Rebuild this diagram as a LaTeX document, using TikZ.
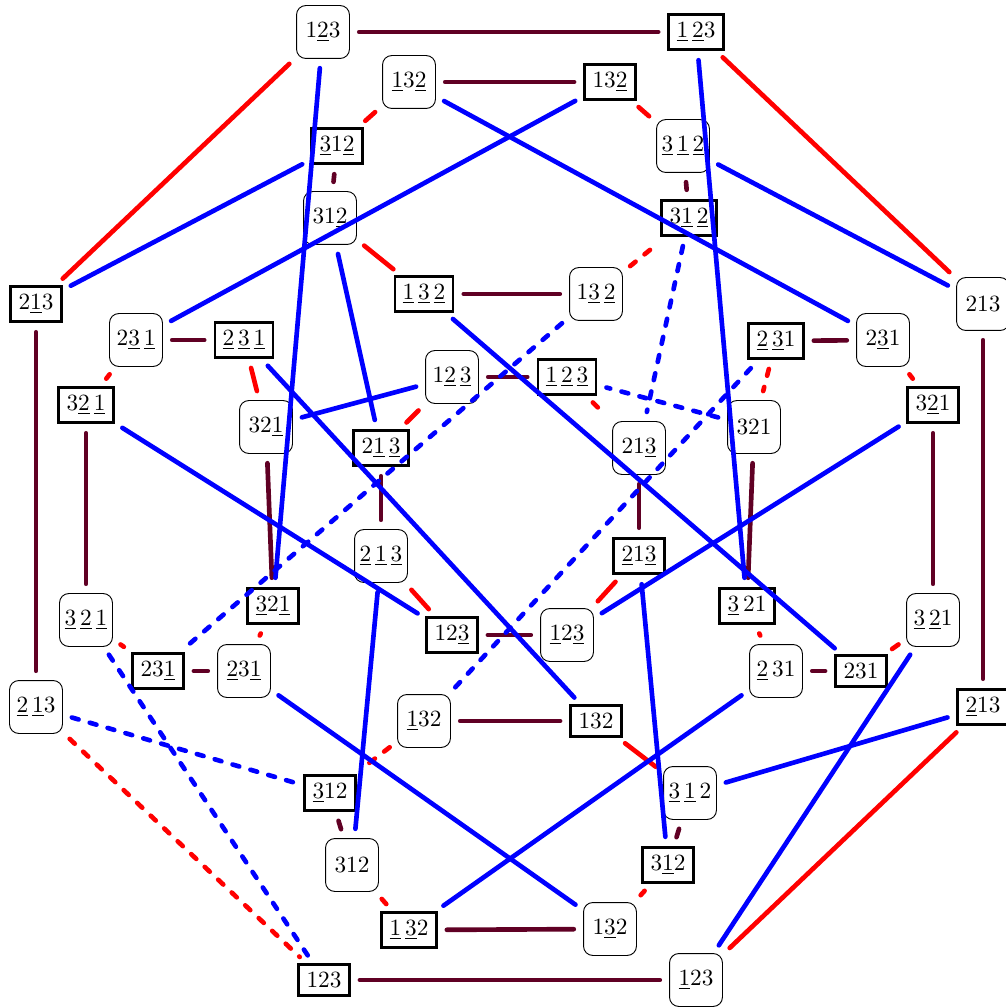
\documentclass[tikz,border=0pt]{standalone}
\usepackage{xcolor}
\usepackage{tikz}
\definecolor{pmaroon}{RGB}{96,0,36}
\definecolor{pred}{RGB}{255,0,0}
\definecolor{pblue}{RGB}{0,0,255}
\newcommand*{\und}[1]{\underline{#1}}
\tikzset{
  rperm/.style={draw=black,rounded corners=4pt,line width=0.4pt,minimum size=0.8cm,inner sep=2pt},
  sperm/.style={draw=black,line width=1.2pt,inner sep=3.33pt},
  link/.style={line width=2pt,line cap=round,shorten >=4pt,shorten <=4pt},
  flip/.style={link,draw=pmaroon},
  rswap/.style={link,draw=pred},
  bswap/.style={link,draw=pblue},
  hidden/.style={dash pattern=on 3pt off 5pt},
}

\begin{document}
\begin{tikzpicture}[x=0.43pt,y=-0.43pt]
  \useasboundingbox (0,0) rectangle (1005,1007);
  % upper half
  \node[rperm] (n1) at (323,32) {$1\und{2}3$};
  \node[sperm] (n2) at (696,32) {$\und{1}\,\und{2}3$};
  \node[rperm] (n3) at (409,82) {$\und{1}3\und{2}$};
  \node[sperm] (n4) at (610,82) {$13\und{2}$};
  \node[sperm] (n5) at (337,146) {$\und{3}1\und{2}$};
  \node[rperm] (n6) at (330,218) {$31\und{2}$};
  \node[rperm] (n7) at (683,146) {$\und{3}\,\und{1}\,\und{2}$};
  \node[sperm] (n8) at (689,218) {$3\und{1}\,\und{2}$};
  \node[sperm] (n9) at (36,304) {$2\und{1}3$};
  \node[rperm] (n10) at (136,340) {$2\und{3}\,\und{1}$};
  \node[sperm] (n11) at (244,340) {$\und{2}\,\und{3}\,\und{1}$};
  \node[sperm] (n12) at (86,405) {$3\und{2}\,\und{1}$};
  \node[rperm] (n13) at (266,427) {$32\und{1}$};
  \node[sperm] (n14) at (424,294) {$\und{1}\,\und{3}\,\und{2}$};
  \node[rperm] (n15) at (596,294) {$1\und{3}\,\und{2}$};
  \node[rperm] (n16) at (452,377) {$1\und{2}\,\und{3}$};
  \node[sperm] (n17) at (567,377) {$\und{1}\,\und{2}\,\und{3}$};
  \node[sperm] (n18) at (381,448) {$2\und{1}\,\und{3}$};
  \node[rperm] (n19) at (639,448) {$21\und{3}$};
  \node[sperm] (n20) at (776,341) {$\und{2}\,\und{3}1$};
  \node[rperm] (n21) at (883,340) {$2\und{3}1$};
  \node[rperm] (n22) at (983,304) {$213$};
  \node[rperm] (n23) at (754,427) {$321$};
  \node[sperm] (n24) at (933,405) {$3\und{2}1$};
  % lower half
  \node[rperm] (n25) at (86,620) {$\und{3}\,\und{2}\,\und{1}$};
  \node[sperm] (n26) at (273,606) {$\und{3}2\und{1}$};
  \node[sperm] (n27) at (158,671) {$23\und{1}$};
  \node[rperm] (n28) at (244,671) {$\und{2}3\und{1}$};
  \node[rperm] (n29) at (36,707) {$\und{2}\,\und{1}3$};
  \node[rperm] (n30) at (381,556) {$\und{2}\,\und{1}\,\und{3}$};
  \node[sperm] (n31) at (452,635) {$12\und{3}$};
  \node[rperm] (n32) at (567,635) {$\und{1}2\und{3}$};
  \node[rperm] (n33) at (424,721) {$\und{1}32$};
  \node[sperm] (n34) at (596,721) {$132$};
  \node[sperm] (n35) at (639,556) {$\und{2}1\und{3}$};
  \node[sperm] (n36) at (747,606) {$\und{3}\,21$};
  \node[rperm] (n37) at (776,671) {$\und{2}\,31$};
  \node[sperm] (n38) at (861,671) {$231$};
  \node[rperm] (n39) at (933,620) {$\und{3}\,\und{2}1$};
  \node[sperm] (n40) at (983,707) {$\und{2}13$};
  \node[sperm] (n41) at (330,793) {$\und{3}12$};
  \node[rperm] (n42) at (352,865) {$312$};
  \node[sperm] (n43) at (409,930) {$\und{1}\,\und{3}2$};
  \node[rperm] (n44) at (610,929) {$1\und{3}2$};
  \node[rperm] (n45) at (690,793) {$\und{3}\,\und{1}\,2$};
  \node[sperm] (n46) at (668,865) {$3\und{1}2$};
  \node[sperm] (n47) at (324,980) {$123$};
  \node[rperm] (n48) at (696,980) {$\und{1}23$};

  % maroon links
  \draw[flip] (n1) -- (n2);
  \draw[flip] (n3) -- (n4);
  \draw[flip] (n5) -- (n6);
  \draw[flip] (n7) -- (n8);
  \draw[flip] (n9) -- (n29);
  \draw[flip] (n10) -- (n11);
  \draw[flip] (n12) -- (n25);
  \draw[flip] (n13) -- (n26);
  \draw[flip] (n14) -- (n15);
  \draw[flip] (n16) -- (n17);
  \draw[flip] (n18) -- (n30);
  \draw[flip] (n19) -- (n35);
  \draw[flip] (n20) -- (n21);
  \draw[flip] (n22) -- (n40);
  \draw[flip] (n23) -- (n36);
  \draw[flip] (n24) -- (n39);
  \draw[flip] (n27) -- (n28);
  \draw[flip] (n31) -- (n32);
  \draw[flip] (n33) -- (n34);
  \draw[flip] (n37) -- (n38);
  \draw[flip] (n41) -- (n42);
  \draw[flip] (n43) -- (n44);
  \draw[flip] (n45) -- (n46);
  \draw[flip] (n47) -- (n48);

  % red links
  \draw[rswap] (n1) -- (n9);
  \draw[rswap] (n2) -- (n22);
  \draw[rswap] (n40) -- (n48);
  \draw[rswap] (n3) -- (n5);
  \draw[rswap] (n4) -- (n7);
  \draw[rswap] (n6) -- (n14);
  \draw[rswap] (n10) -- (n12);
  \draw[rswap] (n11) -- (n13);
  \draw[rswap] (n21) -- (n24);
  \draw[rswap] (n16) -- (n18);
  \draw[rswap] (n30) -- (n31);
  \draw[rswap] (n35) -- (n32);
  \draw[rswap] (n26) -- (n28);
  \draw[rswap] (n36) -- (n37);
  \draw[rswap] (n38) -- (n39);
  \draw[rswap] (n34) -- (n45);
  \draw[rswap] (n42) -- (n43);
  \draw[rswap] (n44) -- (n46);
  \draw[rswap,hidden] (n15) -- (n8);
  \draw[rswap,hidden] (n25) -- (n27);
  \draw[rswap,hidden] (n29) -- (n47);
  \draw[rswap,hidden] (n33) -- (n41);
  \draw[rswap,hidden] (n20) -- (n23);
  \draw[rswap,hidden] (n17) -- (n19);

  % blue links
  \draw[bswap] (n1) -- (n26);
  \draw[bswap] (n2) -- (n36);
  \draw[bswap] (n3) -- (n21);
  \draw[bswap] (n4) -- (n10);
  \draw[bswap] (n5) -- (n9);
  \draw[bswap] (n7) -- (n22);
  \draw[bswap] (n6) -- (n18);
  \draw[bswap] (n14) -- (n38);
  \draw[bswap] (n11) -- (n34);
  \draw[bswap] (n13) -- (n16);
  \draw[bswap] (n12) -- (n31);
  \draw[bswap] (n24) -- (n32);
  \draw[bswap] (n30) -- (n42);
  \draw[bswap] (n35) -- (n46);
  \draw[bswap] (n28) -- (n44);
  \draw[bswap] (n37) -- (n43);
  \draw[bswap] (n40) -- (n45);
  \draw[bswap] (n39) -- (n48);
  \draw[bswap,hidden] (n8) -- (n19);
  \draw[bswap,hidden] (n15) -- (n27);
  \draw[bswap,hidden] (n25) -- (n47);
  \draw[bswap,hidden] (n29) -- (n41);
  \draw[bswap,hidden] (n33) -- (n20);
  \draw[bswap,hidden] (n23) -- (n17);
\end{tikzpicture}
\end{document}
